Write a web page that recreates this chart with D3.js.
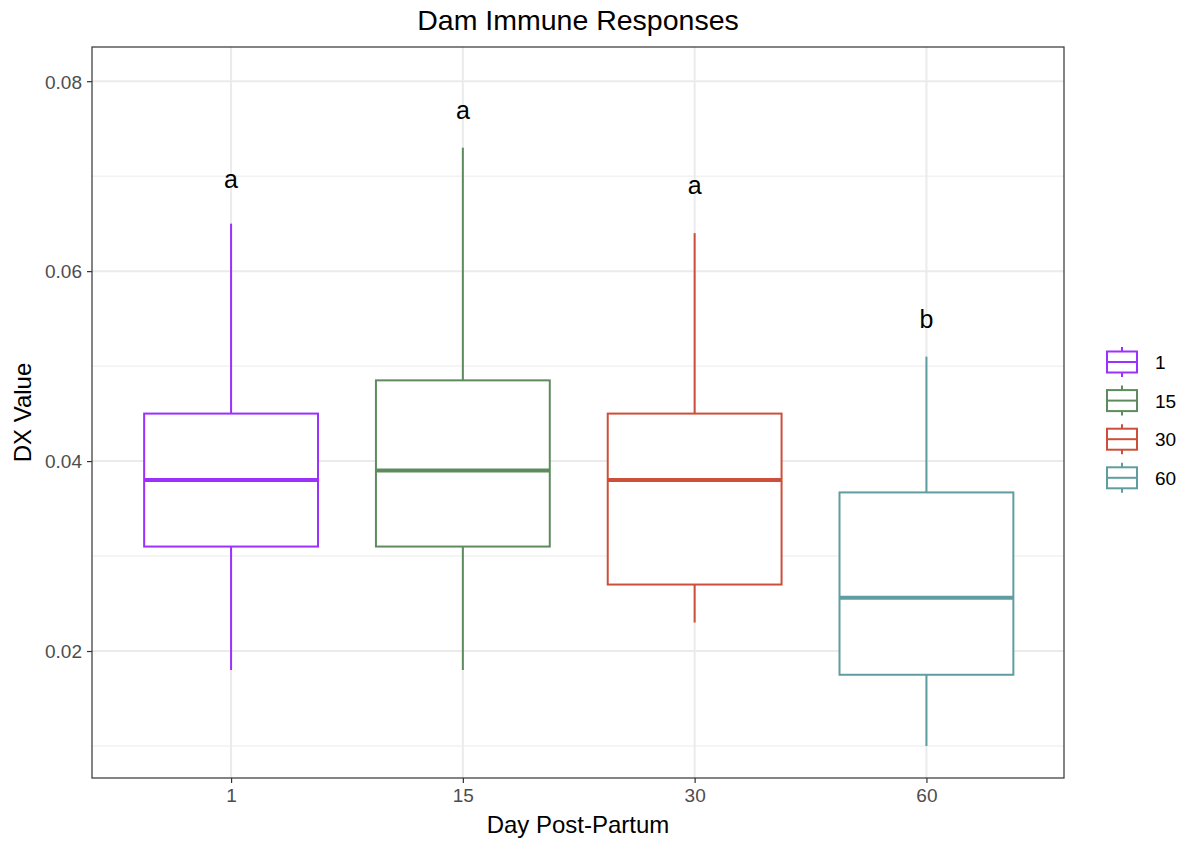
<!DOCTYPE html>
<html><head><meta charset="utf-8">
<script src="https://cdn.jsdelivr.net/npm/d3@7"></script>
<style>body{margin:0;background:#fff;font-family:"Liberation Sans",Arial,sans-serif;}</style>
</head><body>
<svg id="c" width="1183" height="841"></svg>
<script>
const categories = ["1","15","30","60"];
const colors = ["#9B30FF","#5E8B5E","#CD4F39","#5F9EA0"];
const whiskerLow = [0.018,0.018,0.023,0.010];
const q1 = [0.031,0.031,0.027,0.0175];
const median = [0.038,0.039,0.038,0.0256];
const q3 = [0.045,0.0485,0.045,0.0367];
const whiskerHigh = [0.065,0.073,0.064,0.051];
const sigLetters = ["a","a","a","b"];
const letterY = [0.0688,0.0760,0.0681,0.0540];
const yTicks = [0.02,0.04,0.06,0.08];
const yMinor = [0.01,0.03,0.05,0.07];

const svg = d3.select("#c");
const L=92,R=1064,T=47,B=778;
const x = d3.scalePoint().domain(categories).range([L,R+1.5]).padding(0.6);
const bw = x.step()*0.75;
const y = d3.scaleLinear().domain([0.00663,0.0836]).range([B,T]);
const cx = c => x(c);

// grid
const g = svg.append("g");
g.selectAll(".mn").data(yMinor).join("line").attr("x1",L).attr("x2",R)
 .attr("y1",d=>y(d)).attr("y2",d=>y(d)).attr("stroke","#EBEBEB").attr("stroke-width",1);
g.selectAll(".mj").data(yTicks).join("line").attr("x1",L).attr("x2",R)
 .attr("y1",d=>y(d)).attr("y2",d=>y(d)).attr("stroke","#EBEBEB").attr("stroke-width",2);
g.selectAll(".vx").data(categories).join("line").attr("y1",T).attr("y2",B)
 .attr("x1",d=>cx(d)).attr("x2",d=>cx(d)).attr("stroke","#EBEBEB").attr("stroke-width",2);

// boxes
const data = categories.map((c,i)=>({c,i,lo:whiskerLow[i],q1:q1[i],m:median[i],q3:q3[i],hi:whiskerHigh[i],col:colors[i]}));
const bx = svg.append("g").selectAll("g").data(data).join("g");
bx.append("line").attr("x1",d=>cx(d.c)).attr("x2",d=>cx(d.c)).attr("y1",d=>y(d.hi)).attr("y2",d=>y(d.q3)).attr("stroke",d=>d.col).attr("stroke-width",2);
bx.append("line").attr("x1",d=>cx(d.c)).attr("x2",d=>cx(d.c)).attr("y1",d=>y(d.q1)).attr("y2",d=>y(d.lo)).attr("stroke",d=>d.col).attr("stroke-width",2);
bx.append("rect").attr("x",d=>cx(d.c)-bw/2).attr("width",bw).attr("y",d=>y(d.q3)).attr("height",d=>y(d.q1)-y(d.q3))
 .attr("fill","#fff").attr("stroke",d=>d.col).attr("stroke-width",2);
bx.append("line").attr("x1",d=>cx(d.c)-bw/2).attr("x2",d=>cx(d.c)+bw/2).attr("y1",d=>y(d.m)).attr("y2",d=>y(d.m)).attr("stroke",d=>d.col).attr("stroke-width",4);

// letters
svg.append("g").selectAll("text").data(data).join("text")
 .attr("x",d=>cx(d.c)).attr("y",(d,i)=>y(letterY[i])).attr("text-anchor","middle")
 .attr("font-size",25).attr("fill","#000").text((d,i)=>sigLetters[i]);

// panel border
svg.append("rect").attr("x",L).attr("y",T).attr("width",R-L).attr("height",B-T).attr("fill","none").attr("stroke","#333").attr("stroke-width",1.2);

// axes
const ya = svg.append("g").attr("transform",`translate(${L},0)`).call(d3.axisLeft(y).tickValues(yTicks).tickSize(5).tickPadding(5).tickFormat(d3.format(".2f")));
const xa = svg.append("g").attr("transform",`translate(0,${B})`).call(d3.axisBottom(x).tickSize(5).tickPadding(5));
[ya,xa].forEach(a=>{a.select(".domain").remove();a.selectAll("line").attr("stroke","#333").attr("stroke-width",1.2);
 a.selectAll("text").attr("fill","#4D4D4D").attr("font-size",19).attr("font-family","Liberation Sans, Arial, sans-serif");});
ya.selectAll("text").attr("dy","0.36em");
xa.selectAll("text").attr("dy","0.72em");

// titles
svg.append("text").attr("x",(L+R)/2).attr("y",30).attr("text-anchor","middle").attr("font-size",28.5).attr("fill","#000").text("Dam Immune Responses");
svg.append("text").attr("x",(L+R)/2).attr("y",833).attr("text-anchor","middle").attr("font-size",24).attr("fill","#000").text("Day Post-Partum");
svg.append("text").attr("transform",`translate(31,${(T+B)/2}) rotate(-90)`).attr("text-anchor","middle").attr("font-size",24).attr("fill","#000").text("DX Value");

// legend
const lg = svg.append("g").selectAll("g").data(data).join("g").attr("transform",(d,i)=>`translate(1106,${362+i*38.6})`);
lg.append("line").attr("x1",16).attr("x2",16).attr("y1",-15).attr("y2",15).attr("stroke",d=>d.col).attr("stroke-width",2);
lg.append("rect").attr("x",1).attr("y",-10.5).attr("width",30).attr("height",21).attr("fill","#fff").attr("stroke",d=>d.col).attr("stroke-width",2);
lg.append("line").attr("x1",1).attr("x2",31).attr("y1",0).attr("y2",0).attr("stroke",d=>d.col).attr("stroke-width",2);
lg.append("text").attr("x",49).attr("y",7).attr("font-size",19).attr("fill","#000").text(d=>d.c);
</script>
</body></html>
